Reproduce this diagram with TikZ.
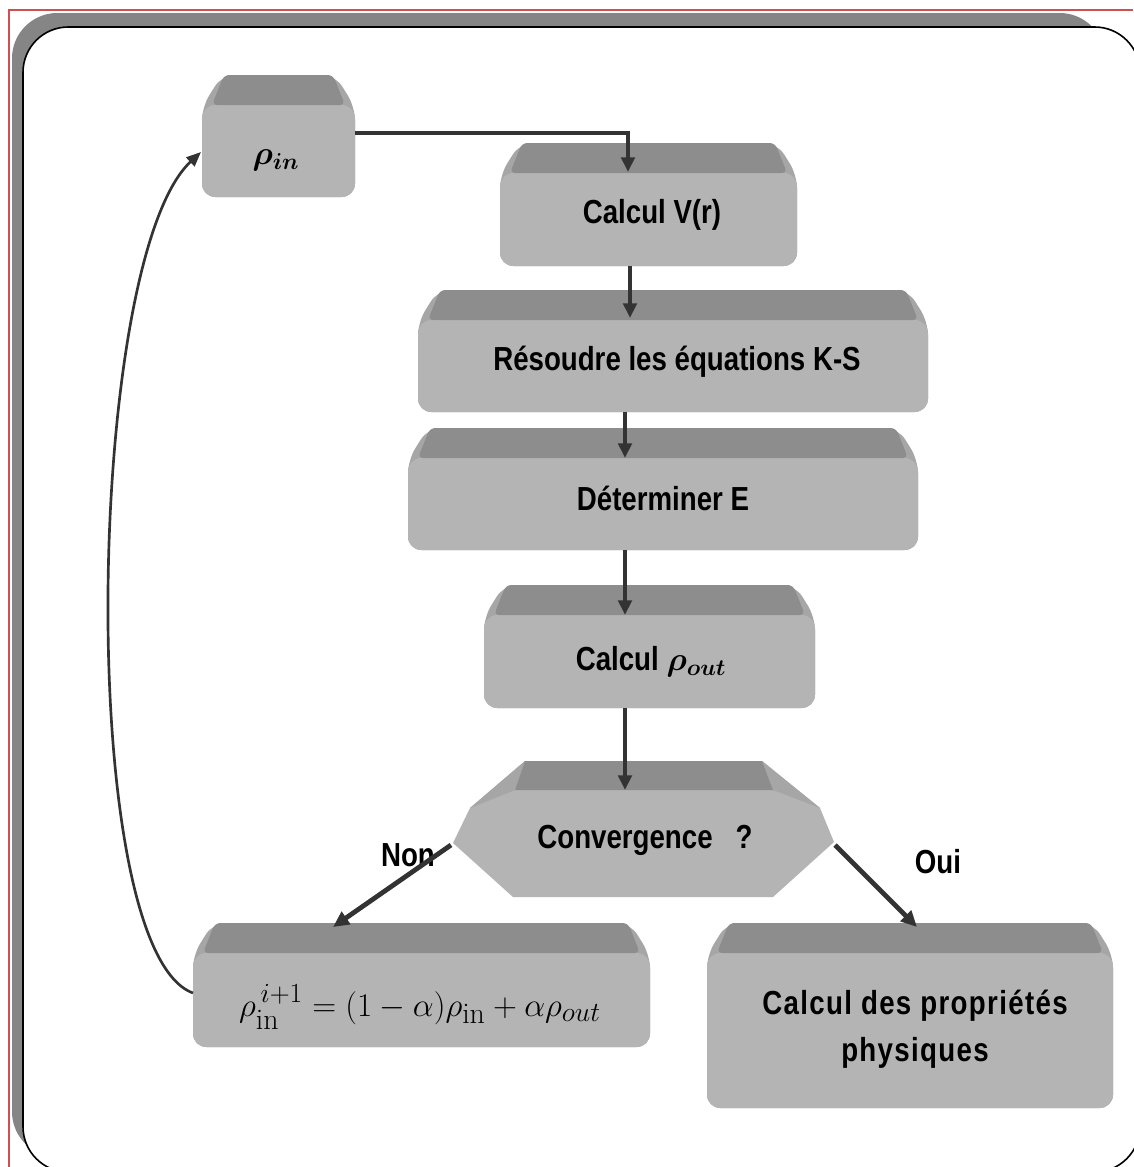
\documentclass[tikz,border=0pt]{standalone}
\usepackage{fontspec}
\usepackage{amsmath,bm}
\usetikzlibrary{arrows.meta,fit}
\newfontfamily\nfont[FakeStretch=0.83]{Liberation Sans}
\definecolor{bodyc}{HTML}{B4B4B4}
\definecolor{bandc}{HTML}{8D8D8D}
\definecolor{sidec}{HTML}{A6A6A6}
\definecolor{linec}{HTML}{333333}
\definecolor{redc}{HTML}{D05050}
\definecolor{shadowc}{HTML}{858585}
\newcommand\bevbox[5]{%
  \fill[sidec, rounded corners=10pt] (#2+20,#3) -- (#4-20,#3) -- (#4,#3+32) -- (#4,#5) -- (#2,#5) -- (#2,#3+32) -- cycle;
  \fill[bodyc, rounded corners=10pt] (#2,#3+30) -- (#4,#3+30) -- (#4,#5) -- (#2,#5) -- cycle;
  \fill[bandc, rounded corners=4pt] (#2+22,#3) -- (#4-22,#3) -- (#4-10,#3+30) -- (#2+10,#3+30) -- cycle;
  \node[fit={(#2,#3)(#4,#5)}, inner sep=0pt] (#1) {};
}
\begin{document}
\begin{tikzpicture}[x=0.75pt,y=-0.75pt,
  lbl/.style={font=\nfont\bfseries\fontsize{25}{34}\selectfont, inner sep=0pt, text=black, align=center},
  arr/.style={draw=linec, line width=3pt, -{Triangle[length=11pt,width=10pt]}},
  tarr/.style={draw=linec, line width=3.6pt, -{Triangle[length=12pt,width=11pt]}},
  carr/.style={draw=linec, line width=2pt, -{Triangle[length=11pt,width=9pt]}}]
\useasboundingbox (0,0) rectangle (1133,1167);
% frame
\fill[shadowc, rounded corners=34pt] (12,13) rectangle (1105,1157);
\filldraw[fill=white, draw=black, line width=1.2pt, rounded corners=34pt] (23,27) rectangle (1140,1172);
\draw[redc, line width=1pt] (9,1167) -- (9,10) -- (1133,10);
% boxes
\bevbox{pin}{202}{75}{355}{197}
\bevbox{vr}{500}{143}{797}{266}
\bevbox{ks}{418}{290}{928}{412}
\bevbox{de}{408}{428}{918}{550}
\bevbox{co}{484}{585}{815}{708}
\bevbox{upd}{193}{923}{650}{1047}
\bevbox{pp}{707}{923}{1113}{1108}
% convergence hexagon
\fill[bodyc] (525,761) -- (762,761) -- (820,808) -- (834,842) -- (773,897) -- (513,897) -- (453,843) -- (470,808) -- cycle;
\fill[sidec] (525,761) -- (515,790) -- (470,808) -- cycle;
\fill[sidec] (762,761) -- (773,790) -- (820,808) -- cycle;
\fill[bandc] (525,761) -- (762,761) -- (773,790) -- (515,790) -- cycle;
\node[fit={(453,761)(834,897)}, inner sep=0pt] (conv) {};
% texts
\node[lbl, font=\fontsize{26}{30}\selectfont] (pin-t) at (276,160) {$\bm{\rho}_{\bm{in}}$};
\node[lbl] (vr-t) at (652,215) {Calcul V(r)};
\node[lbl] (ks-t) at (677,362) {Résoudre les équations K-S};
\node[lbl] (de-t) at (663,498) {Déterminer E};
\node[lbl] (co-t) at (651,662) {Calcul $\bm{\rho}_{\bm{out}}$};
\node[lbl] (conv-t) at (645,840) {Convergence\ \ \ ?};
\node[inner sep=0pt, font=\fontsize{32}{36}\selectfont] (upd-t) at (420,1007) {$\rho_{\mathrm{in}}^{\,i+1}=(1-\alpha)\rho_{\mathrm{in}}+\alpha\rho_{out}$};
\node[lbl, font=\nfont\bfseries\fontsize{25}{35}\selectfont\addfontfeatures{LetterSpace=4}] (pp-t) at (915,1029) {Calcul des propriétés\\physiques};
\node[lbl] (non) at (408,855) {Non};
\node[lbl] (oui) at (938,862) {Oui};
% connector ends
\coordinate (pin-o) at (355,133);
\coordinate (vr-i) at (628,172);
\coordinate (vr-o) at (630,266);
\coordinate (ks-i) at (630,318);
\coordinate (ks-o) at (625,412);
\coordinate (de-i) at (625,458);
\coordinate (de-o) at (625,550);
\coordinate (co-i) at (625,615);
\coordinate (co-o) at (625,708);
\coordinate (conv-i) at (625,790);
\coordinate (conv-l) at (451,845);
\coordinate (conv-r) at (835,845);
\coordinate (upd-i) at (333,927);
\coordinate (pp-i) at (917,927);
\coordinate (upd-o) at (193,993);
\coordinate (pin-i) at (201,152);
% connectors
\draw[arr] (pin-o) -| (vr-i);
\draw[arr] (vr-o) -- (ks-i);
\draw[arr] (ks-o) -- (de-i);
\draw[arr] (de-o) -- (co-i);
\draw[arr] (co-o) -- (conv-i);
\draw[tarr] (conv-l) -- (upd-i);
\draw[tarr] (conv-r) -- (pp-i);
\draw[carr] (upd-o) .. controls (75,950) and (85,260) .. (pin-i);
\end{tikzpicture}
\end{document}
